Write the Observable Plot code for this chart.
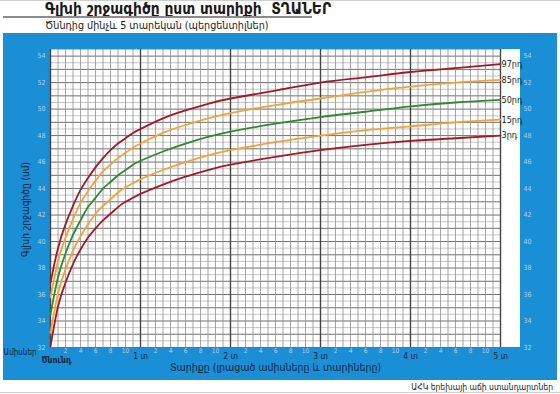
<!DOCTYPE html>
<html><head><meta charset="utf-8">
<script src="https://cdn.jsdelivr.net/npm/d3@7"></script>
<script src="https://cdn.jsdelivr.net/npm/@observablehq/plot@0.6"></script>
<style>
body{margin:0;background:#fff;font-family:"DejaVu Sans Condensed","DejaVu Sans",sans-serif;}
#wrap{position:relative;width:560px;height:394px;overflow:hidden;background:#fff;}
#topline{position:absolute;left:0;top:0;width:560px;height:1px;background:#cfcfcf;}
#title{position:absolute;left:45px;top:0px;font-weight:bold;font-size:15.4px;line-height:18px;color:#1a1a1a;white-space:nowrap;}
#rule{position:absolute;left:3px;top:16px;width:309px;height:2px;background:#8c8c8c;}
#subtitle{position:absolute;left:45px;top:19px;font-size:10.7px;line-height:14px;color:#1a1a1a;white-space:nowrap;}
#panel{position:absolute;left:3px;top:33px;width:554px;height:347px;}
#footer{position:absolute;right:7px;top:381px;font-size:8.5px;line-height:12px;color:#1a1a1a;white-space:nowrap;}
#botline{position:absolute;left:0;top:392px;width:560px;height:1px;background:#cfcfcf;}
</style></head><body>
<div id="wrap">
  <div id="topline"></div>
  <div id="title">Գլխի շրջագիծը ըստ տարիքի&nbsp; ՏՂԱՆԵՐ</div>
  <div id="rule"></div>
  <div id="subtitle">Ծննդից մինչև 5 տարեկան (պերցենտիլներ)</div>
  <div id="panel"></div>
  <div id="footer">ԱՀԿ երեխայի աճի ստանդարտներ</div>
  <div id="botline"></div>
</div>
<script>
// ---- data ----
const months = [0,1,2,3,4,5,6,7,8,9,10,11,12,15,18,21,24,30,36,42,48,54,60];
const p3  = [32.1,35.1,36.9,38.3,39.4,40.3,41.0,41.6,42.1,42.6,43.0,43.3,43.6,44.3,44.9,45.4,45.8,46.4,46.9,47.3,47.6,47.8,48.0];
const p15 = [33.1,36.1,37.9,39.3,40.4,41.3,42.1,42.7,43.2,43.7,44.1,44.4,44.7,45.4,46.0,46.5,46.9,47.5,48.0,48.4,48.7,49.0,49.2];
const p50 = [34.5,37.3,39.1,40.5,41.6,42.6,43.3,44.0,44.5,45.0,45.4,45.8,46.1,46.8,47.4,47.9,48.3,48.9,49.4,49.8,50.2,50.5,50.7];
const p85 = [35.8,38.5,40.3,41.7,42.9,43.8,44.6,45.3,45.8,46.3,46.7,47.1,47.4,48.2,48.8,49.3,49.7,50.3,50.8,51.3,51.7,52.0,52.2];
const p97 = [36.9,39.5,41.3,42.7,43.9,44.8,45.6,46.3,46.9,47.4,47.8,48.2,48.5,49.3,49.9,50.4,50.8,51.4,52.0,52.4,52.8,53.1,53.4];
const percentileLabels = ["3րդ","15րդ","50րդ","85րդ","97րդ"];
const yearLabels = ["1 տ","2 տ","3 տ","4 տ","5 տ"];
const monthTickLabels = [2,4,6,8,10];
const yTickLabels = [32,34,36,38,40,42,44,46,48,50,52,54];
const birthLabel = "Ծնունդ";
const monthsWord = "Ամիսներ";
const xTitle = "Տարիքը (լրացած ամիսները և տարիները)";
const yTitle = "Գլխի շրջագիծը (սմ)";

// ---- styling ----
const BLUE = "#1b8fd5", RED = "#a3182a", ORANGE = "#f3a23a", GREEN = "#2d8a2f";
const DARK = "#0c2340", LIGHT = "#b3d2e8";
const FONT = "'DejaVu Sans Condensed','DejaVu Sans',sans-serif";

const seriesVals = [p3, p15, p50, p85, p97];
const seriesColors = [RED, ORANGE, GREEN, ORANGE, RED];
const series = seriesVals.map((vals, k) => ({
  label: percentileLabels[k], color: seriesColors[k],
  rows: months.map((m, i) => ({m, v: vals[i]}))
}));
const ends = series.map(s => ({label: s.label, m: s.rows[s.rows.length-1].m, v: s.rows[s.rows.length-1].v}));

const xMax = 60, yMin = 32, yMax = 54.5;
const allMonths = d3.range(0, xMax + 1);
const yearMonths = allMonths.filter(m => m % 12 === 0);
const minorMonths = allMonths.filter(m => m % 12 !== 0);
const halfCm = d3.range(yMin + 0.5, yMax + 0.01, 1);
const fullCm = d3.range(yMin, yMax + 0.01, 1);
const monthTickPos = d3.range(5).flatMap(y => monthTickLabels.map(m => y * 12 + m));
const yearRows = yearLabels.map((t, i) => ({t, m: (i + 1) * 12}));
const whiteExtra = 20 / 7.5;

const marks = [
  Plot.rect([0], {x1: 0, x2: xMax + whiteExtra, y1: yMin, y2: yMax, fill: "white"}),
  Plot.ruleY(halfCm, {x1: 0, x2: xMax, stroke: "#b8b8b8", strokeWidth: 0.8}),
  Plot.ruleY(fullCm, {x1: 0, x2: xMax, stroke: "#707070", strokeWidth: 1}),
  Plot.ruleX(minorMonths, {y1: yMin, y2: yMax, stroke: "#8e8e8e", strokeWidth: 0.8}),
  Plot.ruleX(yearMonths, {y1: yMin, y2: yMax, stroke: "#454545", strokeWidth: 1.4}),
  ...series.map(s => Plot.line(s.rows, {x: "m", y: "v", stroke: s.color, strokeWidth: 1.8, curve: "natural"})),
  Plot.text(ends, {x: "m", y: "v", text: "label", textAnchor: "start", dx: 1, fontSize: 9, fill: "#1a1a1a"}),
  Plot.axisY(yTickLabels, {anchor: "left", tickSize: 0, tickPadding: 5, fontSize: 7, fill: LIGHT, label: null}),
  Plot.axisY(yTickLabels, {anchor: "right", tickSize: 0, tickPadding: 23, fontSize: 7, fill: LIGHT, label: null}),
  Plot.axisX(monthTickPos, {anchor: "bottom", tickSize: 0, tickPadding: 1, fontSize: 6.5, fill: LIGHT, tickFormat: d => String(d % 12), label: null}),
  Plot.text(yearRows, {x: "m", text: "t", frameAnchor: "bottom", dy: 11.5, fontSize: 8.5, fill: DARK}),
  Plot.text([birthLabel], {x: 0, frameAnchor: "bottom", dy: 15, dx: 6, fontSize: 8.5, fontWeight: "bold", fill: DARK}),
  Plot.text([monthsWord], {frameAnchor: "bottom-left", textAnchor: "end", dx: -14, dy: 7.5, fontSize: 8, fill: DARK}),
  Plot.text([xTitle], {frameAnchor: "bottom", textAnchor: "middle", dy: 23, fontSize: 10.5, fill: DARK}),
  Plot.text([yTitle], {frameAnchor: "left", textAnchor: "middle", dx: -25, dy: 11, rotate: -90, fontSize: 10, fill: DARK})
];

const chart = Plot.plot({
  width: 554, height: 347,
  marginLeft: 47, marginRight: 57, marginTop: 16, marginBottom: 33,
  style: {background: BLUE, fontFamily: FONT, overflow: "visible"},
  x: {domain: [0, xMax]},
  y: {domain: [yMin, yMax]},
  marks
});
document.getElementById("panel").appendChild(chart);
</script>
</body></html>
